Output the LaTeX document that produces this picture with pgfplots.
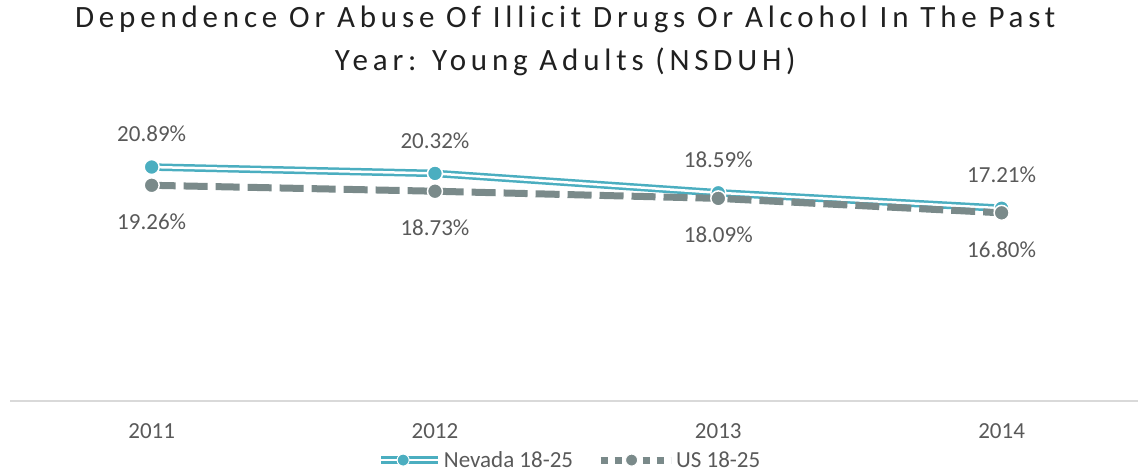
\documentclass[border=0pt]{standalone}
\usepackage{fontspec}
\setmainfont{Carlito}
\newfontfamily\titlefont[LetterSpace=15.5]{Carlito}
\usepackage{pgfplots}
\pgfplotsset{compat=1.18}

\definecolor{nevcol}{HTML}{4BAEC0}
\definecolor{uscol}{HTML}{7A8A8A}
\definecolor{labcol}{HTML}{595959}
\definecolor{axcol}{HTML}{D9D9D9}
\definecolor{titcol}{HTML}{202020}

\begin{document}
\begin{tikzpicture}
\begin{axis}[
  name=main,
  scale only axis, width=1133.3bp, height=280bp,
  xmin=-0.5, xmax=3.5, ymin=0, ymax=25,
  clip=false,
  axis x line*=bottom, axis y line=none,
  x axis line style={draw=axcol, line width=1.5bp},
  xtick={0,1,2,3}, xticklabels={2011,2012,2013,2014},
  xtick style={draw=none}, major tick length=0pt,
  xticklabel style={font=\fontsize{23bp}{27bp}\selectfont, text=labcol,
    anchor=center, yshift=-30.5bp},
  /pgf/number format/assume math mode=true,
  title={Dependence Or Abuse Of Illicit Drugs Or Alcohol In The Past\\[4bp]Year: Young Adults (NSDUH)},
  title style={at={(0.49,1)}, anchor=north, yshift=109bp, inner sep=0pt,
    align=center, text=titcol, font=\titlefont\fontsize{31bp}{39bp}\selectfont},
  legend columns=2,
  legend cell align=left,
  legend style={at={(0.494,-0.211)}, anchor=center, draw=none, fill=none,
    font=\fontsize{23bp}{27bp}\selectfont, text=labcol,
    /tikz/every even column/.append style={column sep=22bp}},
]
% Nevada 18-25: double line, then markers with labels above
\addplot[nevcol, line width=2.5bp, double=white, double distance=2.5bp, forget plot]
  coordinates {(0,20.89) (1,20.32) (2,18.59) (3,17.21)};
\addplot[only marks, mark=*, mark size=7.5bp,
  mark options={draw=white, fill=nevcol, line width=1.5bp},
  nodes near coords={\pgfmathprintnumber[fixed,fixed zerofill,precision=2]{\pgfplotspointmeta}\%},
  every node near coord/.append style={anchor=center, yshift=33bp, text=labcol,
    font=\fontsize{23bp}{27bp}\selectfont},
  forget plot]
  coordinates {(0,20.89) (1,20.32) (2,18.59) (3,17.21)};
% US 18-25: thick dashed line with markers, labels below
\addplot[uscol, line width=7bp, dash pattern=on 24bp off 8bp, forget plot]
  coordinates {(0,19.26) (1,18.73) (2,18.09) (3,16.80)};
\addplot[only marks, mark=*, mark size=7.5bp,
  mark options={draw=white, fill=uscol, line width=1.5bp},
  nodes near coords={\pgfmathprintnumber[fixed,fixed zerofill,precision=2]{\pgfplotspointmeta}\%},
  every node near coord/.append style={anchor=center, yshift=-36.5bp, text=labcol,
    font=\fontsize{23bp}{27bp}\selectfont},
  forget plot]
  coordinates {(0,19.26) (1,18.73) (2,18.09) (3,16.80)};

\addlegendimage{legend image code/.code={
  \draw[nevcol, line width=2.5bp, double=white, double distance=2.5bp] (0bp,0bp) -- (57bp,0bp);
  \fill[nevcol, draw=white, line width=1bp] (22bp,0bp) circle (6bp);}}
\addlegendentry{Nevada 18-25}
\addlegendimage{legend image code/.code={
  \draw[uscol, line width=7bp, dash pattern=on 7bp off 7bp] (0bp,0bp) -- (70bp,0bp);
  \fill[uscol, draw=white, line width=1bp] (31bp,0bp) circle (6bp);}}
\addlegendentry{US 18-25}
\end{axis}
\pgfresetboundingbox
\useasboundingbox ([shift={(-10bp,-73bp)}]main.south west) rectangle ([shift={(1128bp,401bp)}]main.south west);
\end{tikzpicture}
\end{document}
